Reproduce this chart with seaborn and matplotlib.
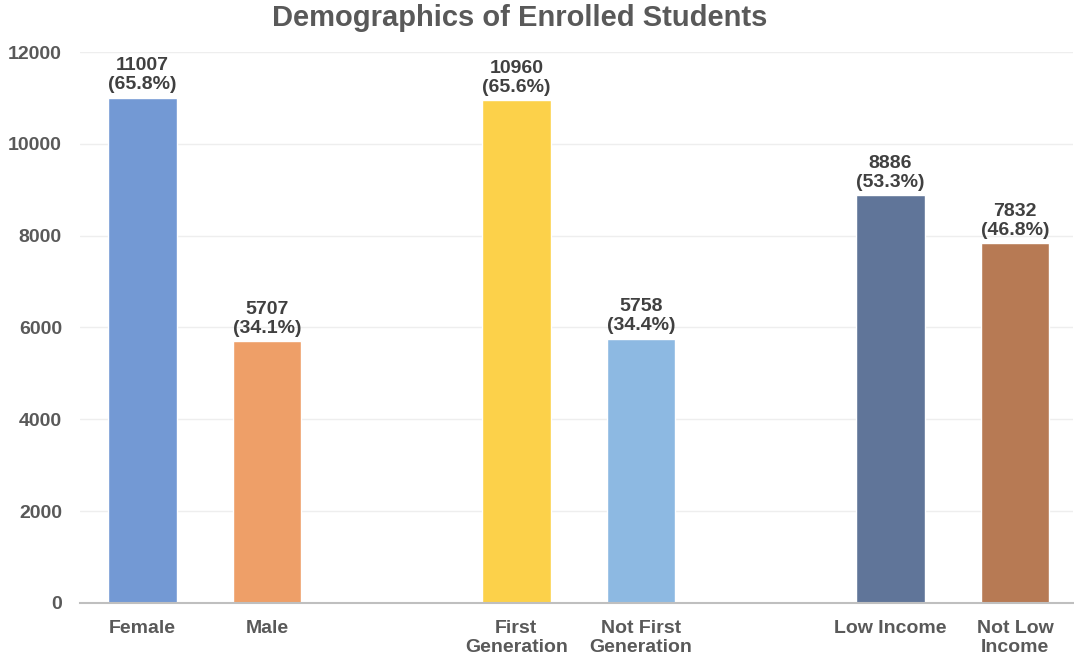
import matplotlib
matplotlib.use("Agg")
import matplotlib.pyplot as plt
import seaborn as sns
import pandas as pd

categories = ["Female", "Male", "First\nGeneration", "Not First\nGeneration",
              "Low Income", "Not Low\nIncome"]
counts = [11007, 5707, 10960, 5758, 8886, 7832]
percents = [65.8, 34.1, 65.6, 34.4, 53.3, 46.8]
colors = ["#7399d4", "#ee9f68", "#fcd14a", "#8db9e2", "#607599", "#b77a54"]
yticks = [0, 2000, 4000, 6000, 8000, 10000, 12000]

# slots with spacers between the three groups
order = ["Female", "Male", " ", "First\nGeneration", "Not First\nGeneration",
         "  ", "Low Income", "Not Low\nIncome"]

df = pd.DataFrame({"category": categories, "count": counts})

sns.set_theme(style="white")
plt.rcParams["font.family"] = ["Liberation Sans", "DejaVu Sans"]

fig = plt.figure(figsize=(10.74, 6.6), dpi=100)
ax = fig.add_axes([0.0745, 0.0864, 0.925, 0.8348])

sns.barplot(data=df, x="category", y="count", order=order, hue="category",
            hue_order=categories, palette=colors, width=0.55, legend=False,
            saturation=1, ax=ax)

for cat, c, p in zip(categories, counts, percents):
    xi = order.index(cat)
    ax.annotate(f"{c}\n({p}%)", (xi, c), xytext=(0, 3), textcoords="offset points",
                ha="center", va="bottom", fontsize=14, fontweight="bold",
                color="#404040", linespacing=1.15)

ax.set_ylim(0, 12000)
ax.set_xlim(-0.5, 7.47)
ax.set_yticks(yticks)
ax.set_yticklabels([str(t) for t in yticks])
ax.yaxis.grid(True, color="#eeeeee", linewidth=1)
ax.set_axisbelow(True)
for s in ["top", "right", "left"]:
    ax.spines[s].set_visible(False)
ax.spines["bottom"].set_color("#bfbfbf")
ax.spines["bottom"].set_linewidth(1.5)
ax.tick_params(axis="y", length=0, labelsize=14, labelcolor="#595959", pad=13)
ax.tick_params(axis="x", length=0, labelsize=14, labelcolor="#595959", pad=12)
for lbl in ax.get_xticklabels() + ax.get_yticklabels():
    lbl.set_fontweight("bold")
    lbl.set_linespacing(1.2)
ax.set_xlabel("")
ax.set_ylabel("")
fig.text(0.484, 0.972, "Demographics of Enrolled Students", fontsize=21,
         fontweight="bold", color="#595959", ha="center", va="center")

fig.savefig("out.png", dpi=100)
